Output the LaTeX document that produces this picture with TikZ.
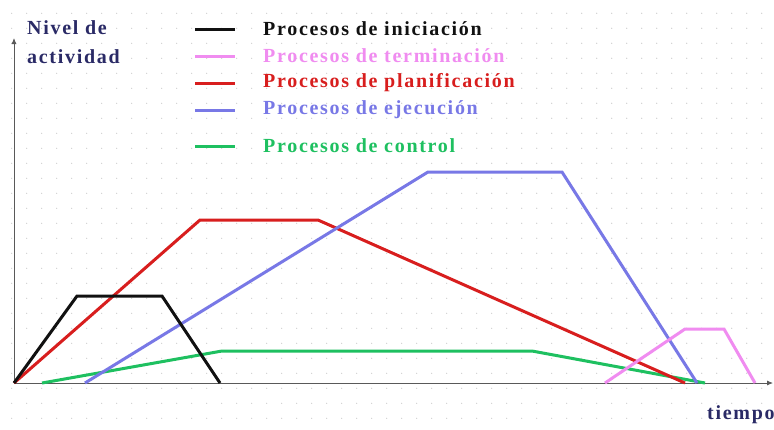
\documentclass[tikz,border=0pt]{standalone}
\usepackage{fontspec}
\setmainfont{Liberation Serif}
\newfontfamily\rotfont[LetterSpace=8.5]{Liberation Serif}
\usetikzlibrary{arrows.meta}
\definecolor{inicio}{HTML}{111111}
\definecolor{termino}{HTML}{F08CF0}
\definecolor{plan}{HTML}{D81E1E}
\definecolor{ejec}{HTML}{7878E6}
\definecolor{control}{HTML}{1EC060}
\definecolor{rotulo}{HTML}{2A2A66}
\tikzset{
  curva/.style={line width=3pt, line join=miter},
  eje/.style={gray!70!black, line width=0.8pt, -{Latex[length=6pt,width=5pt]}},
  leyenda/.style={font=\rotfont\bfseries\fontsize{20}{20}\selectfont, anchor=west, inner sep=0pt},
}
\begin{document}
\begin{tikzpicture}[x=1pt, y=-1pt]
    \useasboundingbox (0,0) rectangle (774,429);
    \fill[white] (0,0) rectangle (774,429);

    % Dotted background
    \foreach \gx in {0,...,51}
        \foreach \gy in {0,...,27}
            \fill[gray!45] (11.7+15*\gx, 13.3+15*\gy) circle (0.6);

    % Axes
    \coordinate (o) at (14, 383);
    \coordinate (ytop) at (14, 38);
    \coordinate (xend) at (773, 383);
    \draw[eje] (o) -- (ytop);
    \draw[eje] (o) -- (xend);
    \node[leyenda, text=rotulo] (nivel) at (27, 28) {Nivel de};
    \node[leyenda, text=rotulo] (activ) at (27, 57) {actividad};
    \node[leyenda, text=rotulo] (tiempo) at (707, 415) {tiempo};

    % Control
    \coordinate (c1) at (42, 383);
    \coordinate (c2) at (222, 351);
    \coordinate (c3) at (532, 351);
    \coordinate (c4) at (705, 383);
    \draw[curva, control] (c1) -- (c2) -- (c3) -- (c4);

    % Planificacion
    \coordinate (p1) at (200, 220);
    \coordinate (p2) at (318, 220);
    \coordinate (p3) at (685, 383);
    \draw[curva, plan] (o) -- (p1) -- (p2) -- (p3);

    % Ejecucion
    \coordinate (e1) at (85, 383);
    \coordinate (e2) at (428, 172);
    \coordinate (e3) at (562, 172);
    \coordinate (e4) at (697, 383);
    \draw[curva, ejec] (e1) -- (e2) -- (e3) -- (e4);

    % Iniciacion
    \coordinate (i1) at (77, 296);
    \coordinate (i2) at (162, 296);
    \coordinate (i3) at (220, 383);
    \draw[curva, inicio] (o) -- (i1) -- (i2) -- (i3);

    % Terminacion
    \coordinate (t1) at (605, 383);
    \coordinate (t2) at (685, 329);
    \coordinate (t3) at (724, 329);
    \coordinate (t4) at (755, 383);
    \draw[curva, termino] (t1) -- (t2) -- (t3) -- (t4);

    % Legend
    \foreach \i/\y/\col/\txt in {1/29/inicio/iniciación, 2/56/termino/terminación,
                                 3/83/plan/planificación, 4/110/ejec/ejecución,
                                 5/146/control/control} {
        \coordinate (la\i) at (195, \y);
        \coordinate (lb\i) at (235, \y);
        \draw[curva, \col] (la\i) -- (lb\i);
        \node[leyenda, text=\col] (lt\i) at (263, \y) {Procesos de \txt};
    }
\end{tikzpicture}
\end{document}
